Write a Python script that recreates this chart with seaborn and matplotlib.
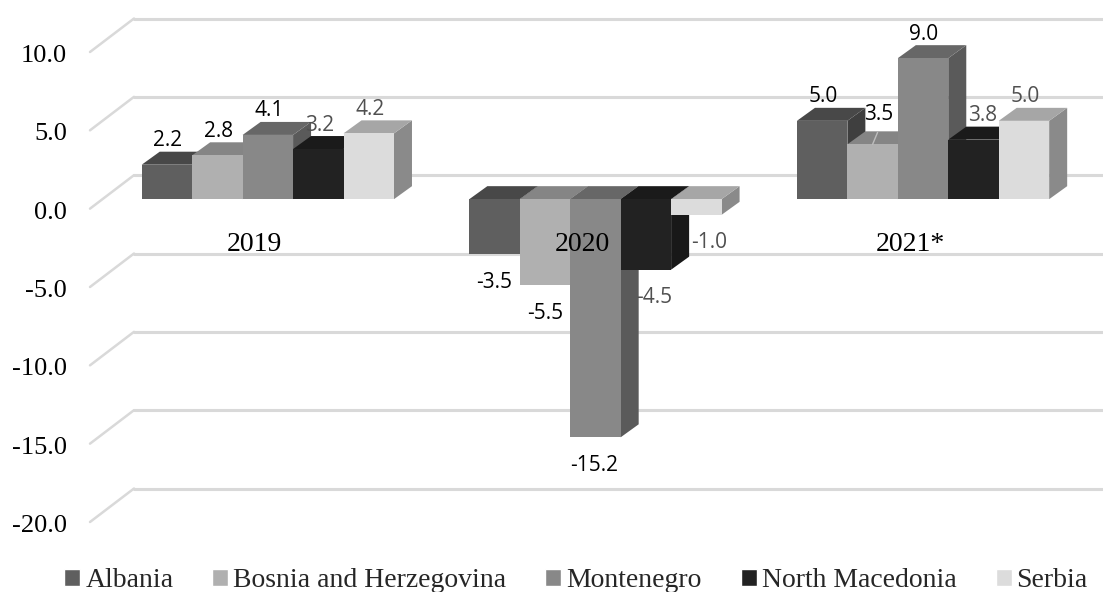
import pandas as pd
import numpy as np
import matplotlib
matplotlib.use('Agg')
import matplotlib.pyplot as plt
from matplotlib.patches import Polygon
from matplotlib.transforms import Affine2D, IdentityTransform
import seaborn as sns

# Data
years = ['2019', '2020', '2021*']
countries = ['Albania', 'Bosnia and Herzegovina', 'Montenegro', 'North Macedonia', 'Serbia']
albania = [2.2, -3.5, 5.0]
bosnia = [2.8, -5.5, 3.5]
montenegro = [4.1, -15.2, 9.0]
north_macedonia = [3.2, -4.5, 3.8]
serbia = [4.2, -1.0, 5.0]
y_ticks = [10, 5, 0, -5, -10, -15, -20]

# colours of the three visible faces of each bar
front_colors = ['#5f5f5f', '#b0b0b0', '#888888', '#222222', '#dcdcdc']
top_colors = ['#484848', '#858585', '#676767', '#1a1a1a', '#a6a6a6']
side_colors = ['#3f3f3f', '#7a7a7a', '#5a5a5a', '#181818', '#8a8a8a']
label_colors = ['black', 'black', 'black', '#505050', '#505050']

df = pd.DataFrame({
    'year': np.tile(years, len(countries)),
    'country': np.repeat(countries, len(years)),
    'value': albania + bosnia + montenegro + north_macedonia + serbia,
})

sns.set_theme(style='white')
plt.rcParams['font.family'] = ['Liberation Serif']

W, H = 1103, 592
fig = plt.figure(figsize=(W / 100, H / 100), dpi=100)

# front plane of the 3D box, in pixels
left, top, bottom = 90, 52, 522
group_px = 327.6
first_center = 267.85
ax = fig.add_axes([left / W, 1 - bottom / H, 1 - left / W, (bottom - top) / H])

sns.barplot(data=df, x='year', y='value', hue='country', order=years, hue_order=countries,
            palette=front_colors, saturation=1, width=0.77, gap=0, errorbar=None, ax=ax)

ax.set_xlim((left - first_center) / group_px, (W - first_center) / group_px)
ax.set_ylim(-20, 10)
ax.set_xlabel('')
ax.set_ylabel('')
sns.despine(ax=ax, left=True, bottom=True)

# back wall gridlines and the diagonals on the side wall
fig.canvas.draw()
depth_x, depth_y = 44, 33.5
for v in y_ticks:
    px, py = ax.transData.transform((ax.get_xlim()[0], v))
    ax.plot([px + depth_x, W], [py + depth_y, py + depth_y], color='#d9d9d9', lw=2.2,
            transform=IdentityTransform(), clip_on=False, zorder=1)
    ax.plot([px, px + depth_x], [py, py + depth_y], color='#d9d9d9', lw=1.8,
            transform=IdentityTransform(), clip_on=False, zorder=1)

# bars stand a bit behind the front plane
lift = Affine2D().translate(0, 9.5)
bar_trans = ax.transData + lift
dx = 18 / group_px
dy = 13 / (ax.transData.transform((0, 1))[1] - ax.transData.transform((0, 0))[1])

# nudges (px) for the labels that were moved in the original
nudges = {(2, 1): (5, 6), (2, 3): (8, 0), (1, 3): (8, 0), (1, 4): (13, 0), (1, 2): (-1, 0)}

for h, container in enumerate(ax.containers):
    for g, bar in enumerate(container):
        x0, w = bar.get_x(), bar.get_width()
        val = df[(df['country'] == countries[h]) & (df['year'] == years[g])]['value'].iloc[0]
        hi = max(val, 0)
        lo = min(val, 0)
        order = 3 + (g * 5 + h) * 3
        bar.set_transform(bar_trans)
        bar.set_zorder(order + 2)
        bar.set_linewidth(0)
        bar.set_clip_on(False)
        top_face = [(x0, hi), (x0 + w, hi), (x0 + w + dx, hi + dy), (x0 + dx, hi + dy)]
        side_face = [(x0 + w, lo), (x0 + w + dx, lo + dy), (x0 + w + dx, hi + dy), (x0 + w, hi)]
        ax.add_patch(Polygon(side_face, fc=side_colors[h], lw=0, transform=bar_trans, zorder=order, clip_on=False))
        ax.add_patch(Polygon(top_face, fc=top_colors[h], lw=0, transform=bar_trans, zorder=order + 1, clip_on=False))

        # data label
        nx, ny = nudges.get((g, h), (0, 0))
        if val >= 0:
            off = (1 + nx, 24 + ny)
        else:
            off = (nx, -28 + ny)
        ax.annotate(f'{val:.1f}', (x0 + w / 2, val), xycoords=bar_trans, xytext=(off[0] * 0.72, off[1] * 0.72),
                    textcoords='offset points', ha='center', va='center', fontsize=15,
                    family='Open Sans', color=label_colors[h], zorder=200, annotation_clip=False)

# leader line of the moved 3.5 label
g, h = 2, 1
bar = ax.containers[h][g]
bx = bar.get_x() + bar.get_width() / 2
ax.annotate('', (bx, bosnia[g]), xycoords=bar_trans, xytext=(5 * 0.72, 12 * 0.72), textcoords='offset points',
            arrowprops=dict(arrowstyle='-', color='#bdbdbd', lw=1, shrinkA=0, shrinkB=0), zorder=150, annotation_clip=False)

# axis text
ax.set_yticks(y_ticks)
ax.set_yticklabels([f'{v:.1f}' for v in y_ticks])
ax.tick_params(axis='y', length=0, pad=23 * 0.72, labelsize=19, labelcolor='black')
for t in ax.get_yticklabels():
    t.set_transform(t.get_transform() + Affine2D().translate(0, -1.5))
ax.spines['bottom'].set_position(('data', 0))
ax.set_xticks(np.arange(len(years)) - 13 / group_px)
ax.set_xticklabels(years)
ax.tick_params(axis='x', length=0, pad=16.5, labelsize=20, labelcolor='black')
ax.xaxis.set_zorder(190)
ax.yaxis.set_zorder(190)

sns.move_legend(ax, 'center', bbox_to_anchor=(576 / W, 1 - 580.5 / H), bbox_transform=fig.transFigure, ncol=5,
                title=None, frameon=False, fontsize=20, handlelength=0.58, handleheight=0.58,
                handletextpad=0.18, columnspacing=1.4, borderpad=0, borderaxespad=0)

fig.savefig('out.png', dpi=100)
